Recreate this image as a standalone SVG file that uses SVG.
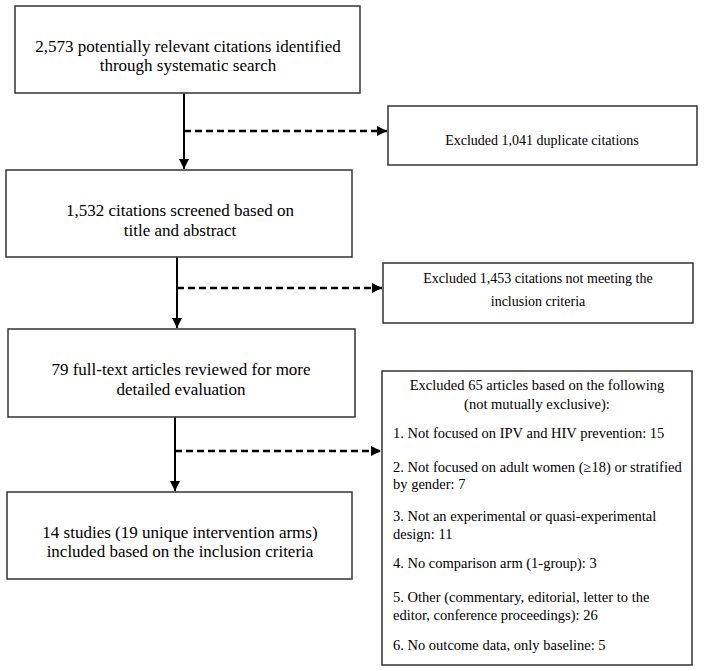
<svg xmlns="http://www.w3.org/2000/svg" width="704" height="671" viewBox="0 0 704 671">
<defs>
<style>
.box{fill:#fff;stroke:#333;stroke-width:1.5}
.t{font-family:"Liberation Serif","Times New Roman",serif;fill:#000}
.big{font-size:17px;text-anchor:middle}
.sm{font-size:14px;text-anchor:middle}
.ls{font-size:14.5px}
.solid{stroke:#000;stroke-width:2;fill:none}
.dash{stroke:#000;stroke-width:2.5;fill:none;stroke-dasharray:7 4}
</style>
<marker id="ah" viewBox="0 0 10 10" refX="10" refY="5" markerWidth="10" markerHeight="10" markerUnits="userSpaceOnUse" orient="auto">
<path d="M0,0 L10,5 L0,10 z" fill="#000"/>
</marker>
</defs>
<rect width="704" height="671" fill="#fff"/>
<g id="connectors">
<path class="solid" d="M184,93 V169" marker-end="url(#ah)"/>
<path class="dash" d="M184,131 H387" marker-end="url(#ah)"/>
<path class="solid" d="M177,257 V328" marker-end="url(#ah)"/>
<path class="dash" d="M177,288 H382" marker-end="url(#ah)"/>
<path class="solid" d="M175,417 V491" marker-end="url(#ah)"/>
<path class="dash" d="M175,451 H381" marker-end="url(#ah)"/>
</g>
<g id="n1">
<rect class="box" x="15" y="6" width="345" height="87"/>
<text class="t big" x="188" y="52">2,573 potentially relevant citations identified</text>
<text class="t big" x="188" y="71">through systematic search</text>
</g>
<g id="n2">
<rect class="box" x="388" y="106" width="309" height="59"/>
<text class="t sm" x="542" y="145">Excluded 1,041 duplicate citations</text>
</g>
<g id="n3">
<rect class="box" x="6" y="170" width="346" height="87"/>
<text class="t big" x="180" y="216">1,532 citations screened based on</text>
<text class="t big" x="180" y="236">title and abstract</text>
</g>
<g id="n4">
<rect class="box" x="383" y="263" width="310" height="60"/>
<text class="t sm" x="538" y="283">Excluded 1,453 citations not meeting the</text>
<text class="t sm" x="538" y="306">inclusion criteria</text>
</g>
<g id="n5">
<rect class="box" x="8" y="329" width="347" height="88"/>
<text class="t big" x="181" y="375">79 full-text articles reviewed for more</text>
<text class="t big" x="181" y="395">detailed evaluation</text>
</g>
<g id="n6">
<rect class="box" x="382" y="371" width="310" height="294"/>
<text class="t ls" x="537" y="390" text-anchor="middle">Excluded 65 articles based on the following</text>
<text class="t ls" x="537" y="409" text-anchor="middle">(not mutually exclusive):</text>
<text class="t ls" x="393" y="438">1. Not focused on IPV and HIV prevention: 15</text>
<text class="t ls" x="393" y="472">2. Not focused on adult women (≥18) or stratified</text>
<text class="t ls" x="393" y="489">by gender: 7</text>
<text class="t ls" x="393" y="521">3. Not an experimental or quasi-experimental</text>
<text class="t ls" x="393" y="539">design: 11</text>
<text class="t ls" x="393" y="568">4. No comparison arm (1-group): 3</text>
<text class="t ls" x="393" y="602">5. Other (commentary, editorial, letter to the</text>
<text class="t ls" x="393" y="620">editor, conference proceedings): 26</text>
<text class="t ls" x="393" y="650">6. No outcome data, only baseline: 5</text>
</g>
<g id="n7">
<rect class="box" x="7" y="492" width="345" height="87"/>
<text class="t big" x="180" y="538">14 studies (19 unique intervention arms)</text>
<text class="t big" x="180" y="557">included based on the inclusion criteria</text>
</g>
</svg>
